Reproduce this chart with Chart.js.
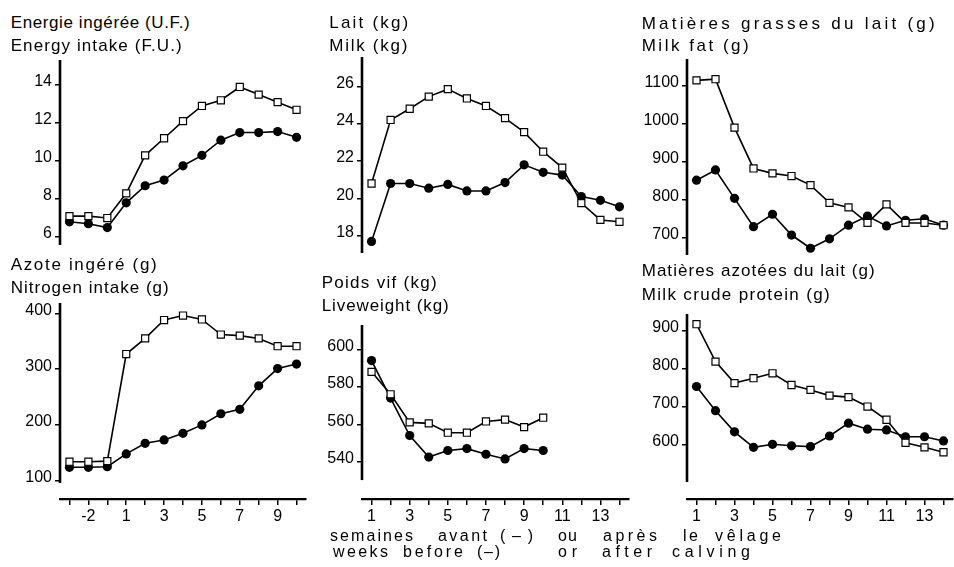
<!DOCTYPE html>
<html>
<head>
<meta charset="utf-8">
<script src="https://cdn.jsdelivr.net/npm/chart.js@4/dist/chart.umd.min.js"></script>
<style>
  html, body { margin: 0; padding: 0; background: #fff; }
  body { position: relative; width: 954px; height: 567px; overflow: hidden; font-family: 'Liberation Sans', Arial, sans-serif; color: #000; }
  canvas { position: absolute; }
  .txt { position: absolute; white-space: pre; line-height: 1; }
</style>
</head>
<body>
<script>
// weeks before (-) or after calving
const weeksPre = ['-3', '-2', '-1', '1', '2', '3', '4', '5', '6', '7', '8', '9', '10'];
const weeksPost = ['1', '2', '3', '4', '5', '6', '7', '8', '9', '10', '11', '12', '13', '14'];
const shownPre = ['-2', '1', '3', '5', '7', '9'];
const shownPost = ['1', '3', '5', '7', '9', '11', '13'];

// tick labels
const energyTicks = [6, 8, 10, 12, 14];
const milkTicks = [18, 20, 22, 24, 26];
const fatTicks = [700, 800, 900, 1000, 1100];
const nitrogenTicks = [100, 200, 300, 400];
const weightTicks = [540, 560, 580, 600];
const proteinTicks = [600, 700, 800, 900];

// open squares / filled dots
const energySquares = [7.1, 7.1, 7.0, 8.3, 10.3, 11.2, 12.1, 12.9, 13.2, 13.9, 13.5, 13.1, 12.7];
const energyDots = [6.8, 6.7, 6.5, 7.8, 8.7, 9.0, 9.75, 10.3, 11.1, 11.5, 11.5, 11.55, 11.25];
const milkSquares = [20.8, 24.2, 24.8, 25.45, 25.85, 25.35, 24.95, 24.3, 23.55, 22.5, 21.65, 19.75, 18.85, 18.75];
const milkDots = [17.7, 20.8, 20.8, 20.55, 20.75, 20.4, 20.4, 20.85, 21.8, 21.4, 21.25, 20.1, 19.9, 19.55];
const fatSquares = [1115, 1118, 990, 882, 869, 862, 838, 791, 779, 738, 787, 738, 738, 732];
const fatDots = [851, 878, 803, 728, 761, 706, 671, 696, 732, 756, 730, 745, 749, 732];
const nitrogenSquares = [134, 134, 135, 327, 355, 388, 396, 389, 362, 360, 355, 341, 341];
const nitrogenDots = [124, 124, 125, 148, 167, 173, 185, 200, 220, 228, 270, 301, 309];
const weightSquares = [588, 576, 561, 560.5, 555.5, 555.5, 561.5, 562.5, 558.5, 563.5];
const weightDots = [594, 574, 554, 542.5, 546, 547, 544, 541.5, 547, 546];
const proteinSquares = [918, 819, 762, 775, 788, 757, 744, 729, 725, 700, 665, 604, 592, 579];
const proteinDots = [753, 689, 633, 592, 600, 596, 594, 622, 656, 640, 638, 620, 620, 609];

const FONT = "'Liberation Sans', Arial, sans-serif";
Chart.defaults.font.family = FONT;
Chart.defaults.color = '#000';

// vertical axis line, drawn between two values of the y scale
const yLine = {
  id: 'yLine',
  afterDraw(chart, args, opts) {
    const y = chart.scales.y, ctx = chart.ctx;
    ctx.save();
    ctx.strokeStyle = '#000';
    ctx.lineWidth = 2.6;
    ctx.beginPath();
    ctx.moveTo(y.right, y.getPixelForValue(opts.from));
    ctx.lineTo(y.right, y.getPixelForValue(opts.to));
    ctx.stroke();
    ctx.restore();
  }
};

function panel(o) {
  const padT = 16, padR = 16, yW = 50;
  const xH = o.xAxis ? 34 : 0, padB = o.xAxis ? 0 : 16;
  const w = o.width + yW + padR, h = (o.bottom - o.top) + padT + xH + padB;
  const c = document.createElement('canvas');
  c.width = w; c.height = h;
  c.style.left = (o.left - yW) + 'px';
  c.style.top = (o.top - padT) + 'px';
  c.style.width = w + 'px';
  c.style.height = h + 'px';
  document.body.appendChild(c);

  new Chart(c, {
    type: 'line',
    data: {
      labels: o.labels,
      datasets: [
        {
          data: o.squares, borderColor: '#000', borderWidth: 1.6, tension: 0, fill: false,
          pointStyle: 'rect', pointRadius: 5, pointBackgroundColor: '#fff',
          pointBorderColor: '#000', pointBorderWidth: 1.2
        },
        {
          data: o.dots, borderColor: '#000', borderWidth: 1.6, tension: 0, fill: false,
          pointStyle: 'circle', pointRadius: 4.6, pointBackgroundColor: '#000',
          pointBorderColor: '#000', pointBorderWidth: 0
        }
      ]
    },
    options: {
      responsive: false,
      animation: false,
      layout: { padding: { left: 0, top: padT, right: padR, bottom: padB } },
      plugins: { legend: { display: false }, tooltip: { enabled: false }, yLine: { from: o.lineFrom, to: o.lineTo } },
      scales: {
        x: {
          type: 'category',
          offset: true,
          display: o.xAxis,
          afterFit: s => { s.height = xH; },
          grid: { drawOnChartArea: false, drawTicks: true, tickLength: 6, color: '#000', lineWidth: 1.5, offset: false },
          border: { display: true, color: '#000', width: 2.2 },
          ticks: {
            autoSkip: false, maxRotation: 0, padding: 2, color: '#000', font: { size: 16 },
            callback(v) { const l = this.getLabelForValue(v); return o.shown.includes(l) ? l : ''; }
          }
        },
        y: {
          min: o.min, max: o.max,
          afterFit: s => { s.width = yW; },
          afterBuildTicks: s => { s.ticks = o.yTicks.map(v => ({ value: v })); },
          grid: { drawOnChartArea: false, drawTicks: true, tickLength: 5, color: '#000', lineWidth: 1.5 },
          border: { display: false },
          ticks: { color: '#000', font: { size: 16 }, padding: 3, labelOffset: -3, callback: v => String(v) }
        }
      }
    },
    plugins: [yLine]
  });
}

// top row
panel({ labels: weeksPre, shown: shownPre, squares: energySquares, dots: energyDots, yTicks: energyTicks,
  left: 60, width: 246, top: 60, bottom: 245, min: 5.58, max: 15.32, lineFrom: 15.32, lineTo: 5.58, xAxis: false });
panel({ labels: weeksPost, shown: shownPost, squares: milkSquares, dots: milkDots, yTicks: milkTicks,
  left: 362, width: 267, top: 57, bottom: 253, min: 17.08, max: 27.57, lineFrom: 27.57, lineTo: 17.08, xAxis: false });
panel({ labels: weeksPost, shown: shownPost, squares: fatSquares, dots: fatDots, yTicks: fatTicks,
  left: 687, width: 266, top: 59, bottom: 255, min: 653.2, max: 1171.4, lineFrom: 1171.4, lineTo: 653.2, xAxis: false });
// bottom row, with the week axes
panel({ labels: weeksPre, shown: shownPre, squares: nitrogenSquares, dots: nitrogenDots, yTicks: nitrogenTicks,
  left: 60, width: 246, top: 303, bottom: 499, min: 67.2, max: 418.5, lineFrom: 418.5, lineTo: 95.9, xAxis: true });
panel({ labels: weeksPost, shown: shownPost, squares: weightSquares, dots: weightDots, yTicks: weightTicks,
  left: 362, width: 267, top: 325, bottom: 499, min: 520.1, max: 613, lineFrom: 613, lineTo: 530.2, xAxis: true });
panel({ labels: weeksPost, shown: shownPost, squares: proteinSquares, dots: proteinDots, yTicks: proteinTicks,
  left: 687, width: 266, top: 314, bottom: 499, min: 455.2, max: 945, lineFrom: 945, lineTo: 500.2, xAxis: true });

// text stretched to the width it has in the figure
function placeText(text, x, baseline, width, size) {
  const s = document.createElement('div');
  s.className = 'txt';
  s.textContent = text;
  s.style.fontSize = size + 'px';
  s.style.left = x + 'px';
  s.style.top = (baseline - 0.8465 * size) + 'px';
  document.body.appendChild(s);
  const natural = s.getBoundingClientRect().width;
  const n = text.length;
  if (n > 1) s.style.letterSpacing = ((width - natural) / (n - 1)) + 'px';
}

placeText('Energie ingérée (U.F.)', 10.7, 28.5, 179, 17);
placeText('Energy intake (F.U.)', 10.7, 51.5, 171, 17);
placeText('Lait (kg)', 329.3, 28.5, 79, 17);
placeText('Milk (kg)', 329.3, 51, 78, 17);
placeText('Matières grasses du lait (g)', 641.7, 29, 293, 17);
placeText('Milk fat (g)', 641.7, 51, 107, 17);
placeText('Azote ingéré (g)', 10.7, 270, 146, 17);
placeText('Nitrogen intake (g)', 10.7, 293, 158, 17);
placeText('Poids vif (kg)', 321.7, 288, 115, 17);
placeText('Liveweight (kg)', 321.7, 311.5, 127, 17);
placeText('Matières azotées du lait (g)', 641.7, 276.5, 233, 17);
placeText('Milk crude protein (g)', 641.7, 300, 188, 17);

// caption, word by word
[['semaines', 330, 83], ['avant', 438, 49], ['(–)', 500, 33], ['ou', 558, 19],
 ['après', 603, 54], ['le', 683, 15], ['vêlage', 715, 66]].forEach(w => placeText(w[0], w[1], 542, w[2], 16));
[['weeks', 333, 55], ['before', 403, 60], ['(–)', 477, 23], ['or', 558, 19],
 ['after', 602, 50], ['calving', 672, 78]].forEach(w => placeText(w[0], w[1], 558, w[2], 16));
</script>
</body>
</html>
